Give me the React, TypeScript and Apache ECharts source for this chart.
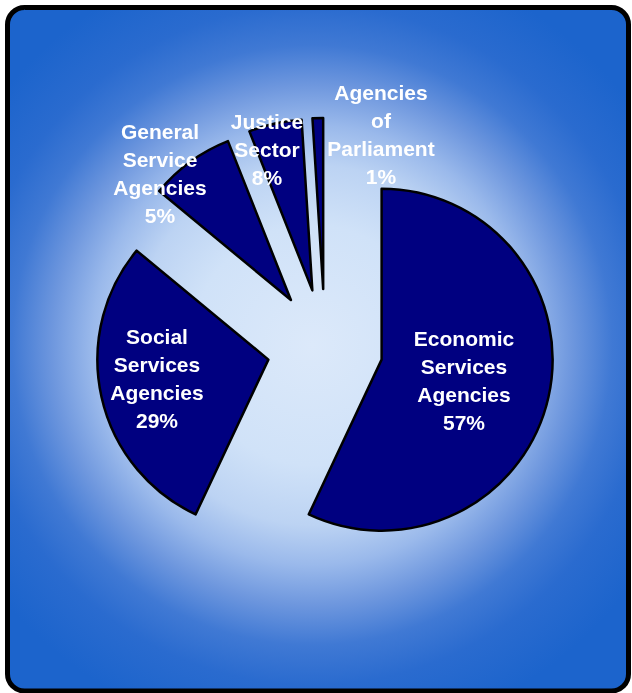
import React, { useEffect, useRef } from "react";
import * as echarts from "echarts";

// Slices, clockwise from 12 o'clock (angles)
const categories = [
  "Economic Services Agencies",
  "Social Services Agencies",
  "General Service Agencies",
  "Justice Sector",
  "Agencies of Parliament",
];
const sliceValues = [57, 29, 8, 5, 1];
// Label text as printed on the chart
const labelLines = [
  ["Economic", "Services", "Agencies"],
  ["Social", "Services", "Agencies"],
  ["General", "Service", "Agencies"],
  ["Justice", "Sector"],
  ["Agencies", "of", "Parliament"],
];
const percentLabels = ["57%", "29%", "5%", "8%", "1%"];

// Layout (label anchor centres, px)
const labelAnchors = [
  [464, 380],
  [157, 378],
  [160, 173],
  [267, 149],
  [381, 134],
];

export default function App() {
  const ref = useRef<HTMLDivElement>(null);

  useEffect(() => {
    if (!ref.current) return;
    const chart = echarts.init(ref.current, undefined, { renderer: "svg" });
    const data = categories.map((name, i) => ({
      name,
      value: sliceValues[i],
      selected: true,
    }));
    const labelTexts = categories.map((name, i) => ({
      type: "text",
      z: 100,
      silent: true,
      x: labelAnchors[i][0],
      y: labelAnchors[i][1],
      style: {
        text: [...labelLines[i], percentLabels[i]].join("\n"),
        fill: "#ffffff",
        font: "bold 21px 'Liberation Sans', Arial, sans-serif",
        lineHeight: 28,
        align: "center",
        verticalAlign: "middle",
      },
    }));
    chart.setOption({
      animation: false,
      graphic: [
        {
          type: "rect",
          z: -10,
          silent: true,
          shape: { x: 7.5, y: 7.5, width: 621, height: 683.5, r: 17 },
          style: {
            fill: new echarts.graphic.RadialGradient(
              312,
              345,
              400,
              [
                { offset: 0, color: "#dce9fa" },
                { offset: 0.3, color: "#d0e2f8" },
                { offset: 0.45, color: "#bcd3f3" },
                { offset: 0.55, color: "#9ab9eb" },
                { offset: 0.65, color: "#6e97de" },
                { offset: 0.75, color: "#4079d4" },
                { offset: 0.85, color: "#2a6bcf" },
                { offset: 1, color: "#1c64cc" },
              ],
              true
            ),
            stroke: "#000000",
            lineWidth: 5,
          },
        },
        ...labelTexts,
      ],
      series: [
        {
          type: "pie",
          center: [325, 347],
          radius: 171,
          startAngle: 90,
          clockwise: true,
          selectedMode: "multiple",
          selectedOffset: 58,
          avoidLabelOverlap: false,
          silent: true,
          emphasis: { disabled: true },
          itemStyle: {
            color: "#000080",
            borderColor: "#000000",
            borderWidth: 2.5,
          },
          label: { show: false },
          labelLine: { show: false },
          data,
        },
      ],
    });
    return () => chart.dispose();
  }, []);

  return (
    <div
      ref={ref}
      style={{ position: "fixed", left: 0, top: 0, width: 632, height: 693 }}
    />
  );
}
